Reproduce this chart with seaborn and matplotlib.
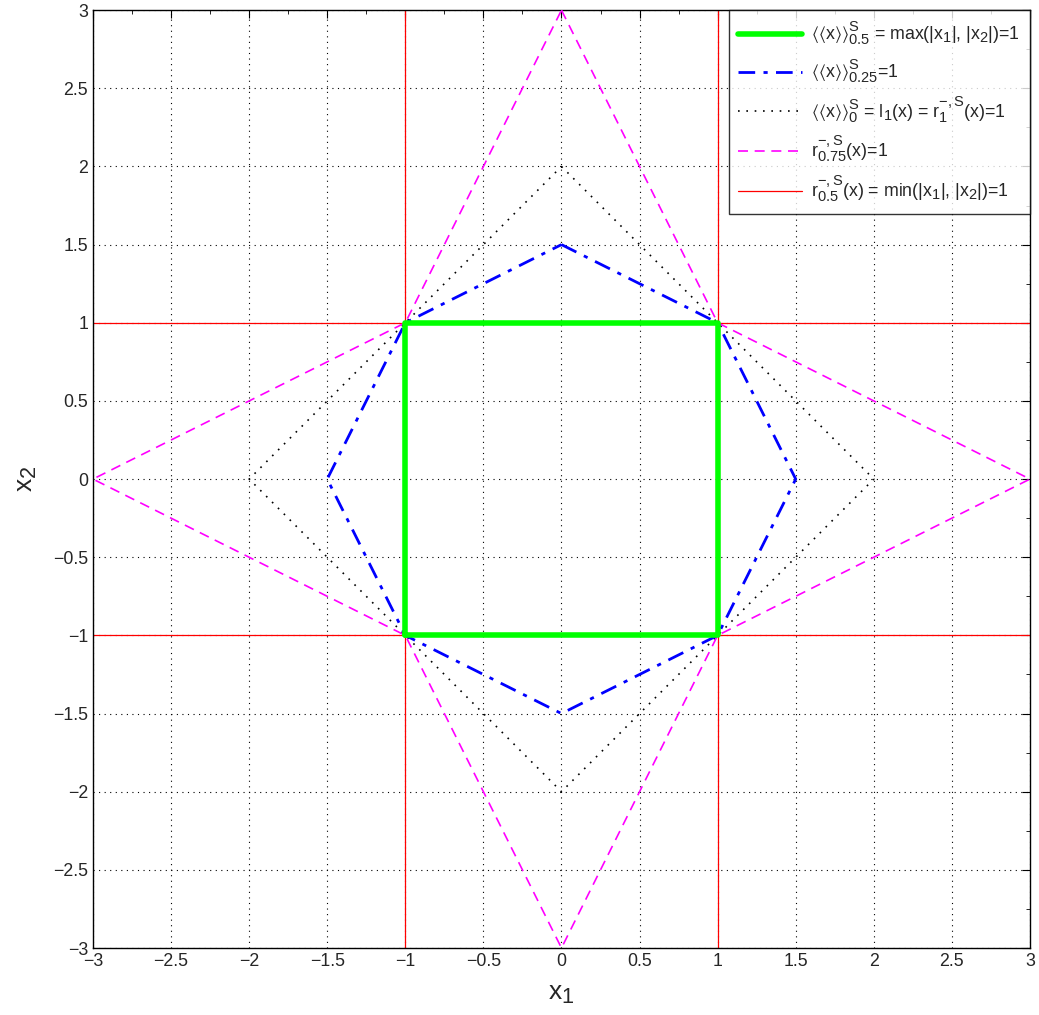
import numpy as np
import pandas as pd
import matplotlib
matplotlib.use("Agg")
import matplotlib.pyplot as plt
import matplotlib._mathtext as _mt
from matplotlib.ticker import MultipleLocator
import seaborn as sns

# Data: polygon vertices of the level sets
sq_x = [-1, 1, 1, -1, -1]
sq_y = [-1, -1, 1, 1, -1]

dd_x = [0, 1, 1.5, 1, 0, -1, -1.5, -1, 0]
dd_y = [1.5, 1, 0, -1, -1.5, -1, 0, 1, 1.5]

dia_x = [0, 2, 0, -2, 0]
dia_y = [2, 0, -2, 0, 2]

mag_x = [0, 1, 3, 1, 0, -1, -3, -1, 0]
mag_y = [3, 1, 0, -1, -3, -1, 0, 1, 3]

red_levels = [-1, 1]
span = [-3, 3]

labels = [
    r"$\langle\langle x\rangle\rangle^{S}_{0.5}$ = max(|x$_1$|, |x$_2$|)=1",
    r"$\langle\langle x\rangle\rangle^{S}_{0.25}$=1",
    r"$\langle\langle x\rangle\rangle^{S}_{0}$ = l$_1$(x) = r$^{-,S}_{1}$(x)=1",
    r"r$^{-,S}_{0.75}$(x)=1",
    r"r$^{-,S}_{0.5}$(x) = min(|x$_1$|, |x$_2$|)=1",
]

_mt.SHRINK_FACTOR = 0.82

sns.set_style("white")
plt.rcParams["font.family"] = ["Liberation Sans", "DejaVu Sans"]
plt.rcParams["mathtext.fontset"] = "custom"
plt.rcParams["mathtext.rm"] = "Liberation Sans"
plt.rcParams["mathtext.it"] = "Liberation Sans"
plt.rcParams["mathtext.default"] = "regular"

fig = plt.figure(figsize=(10.39, 10.15), dpi=100)
ax = fig.add_axes([0.0895, 0.066, 0.9018, 0.924])

def poly(x, y, **kw):
    df = pd.DataFrame({"x": x, "y": y})
    sns.lineplot(data=df, x="x", y="y", sort=False, estimator=None, ax=ax, **kw)

poly(sq_x, sq_y, color="#00ff00", lw=4, zorder=5)
poly(dd_x, dd_y, color="blue", lw=2, dashes=False, zorder=4)
ax.lines[-1].set_linestyle((0, (6, 3, 1.5, 3)))
poly(dia_x, dia_y, color="black", lw=1.2, zorder=3)
ax.lines[-1].set_linestyle((0, (1, 4)))
poly(mag_x, mag_y, color="magenta", lw=1.2, zorder=3)
ax.lines[-1].set_linestyle((0, (6, 4)))
for v in red_levels:
    poly([v, v], span, color="red", lw=0.9, zorder=2)
    poly(span, [v, v], color="red", lw=0.9, zorder=2)

lines = ax.lines
handles = [lines[0], lines[1], lines[2], lines[3], lines[4]]
leg = ax.legend(handles, labels, loc="upper right", fontsize=12.8,
                frameon=True, fancybox=False, edgecolor="black",
                handlelength=3.6, handletextpad=0.5, labelspacing=0.55,
                borderaxespad=0.0, borderpad=0.55)
leg.get_frame().set_linewidth(1.0)
leg.set_zorder(10)

ax.set_xlim(-3, 3)
ax.set_ylim(-3, 3)
ax.xaxis.set_major_locator(MultipleLocator(0.5))
ax.yaxis.set_major_locator(MultipleLocator(0.5))
ax.xaxis.set_minor_locator(MultipleLocator(0.25))
ax.yaxis.set_minor_locator(MultipleLocator(0.25))
ax.grid(True, which="major", color="black", linestyle=(0, (1, 4)), linewidth=0.8)
ax.tick_params(which="both", direction="in", top=True, right=True,
               labelsize=12.8, color="black")
ax.tick_params(which="major", length=6)
ax.tick_params(which="minor", length=3)

def fmt(v):
    s = f"{v:g}"
    return s.replace("-", "\u2212")
ticks = np.arange(-3, 3.01, 0.5)
ax.set_xticks(ticks)
ax.set_xticklabels([fmt(t) for t in ticks])
ax.set_yticks(ticks)
ax.set_yticklabels([fmt(t) for t in ticks])

ax.set_xlabel("x$_1$", fontsize=19, labelpad=9)
ax.set_ylabel("x$_2$", fontsize=19, labelpad=10)
for s in ax.spines.values():
    s.set_color("black")
    s.set_linewidth(1.0)

fig.savefig("out.png", dpi=100, facecolor="white")
